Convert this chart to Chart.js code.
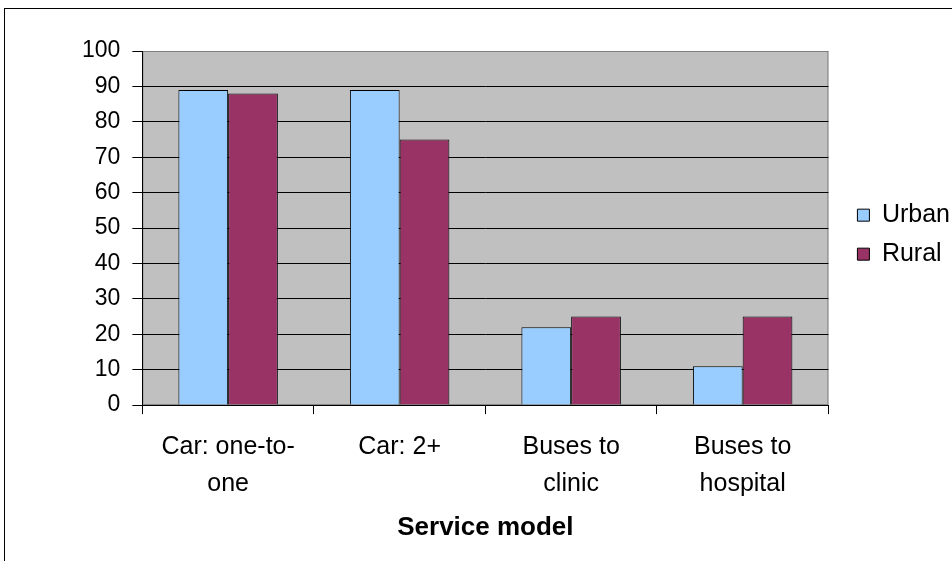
<!DOCTYPE html>
<html>
<head>
<meta charset="utf-8">
<script src="https://cdn.jsdelivr.net/npm/chart.js@4/dist/chart.umd.min.js"></script>
<style>
  html, body { margin: 0; padding: 0; background: #fff; overflow: hidden; }
  #wrap { position: relative; width: 952px; height: 561px; overflow: hidden; }
  #frame { position: absolute; left: 4px; top: 8px; width: 990px; height: 600px; border: 1px solid #000; box-sizing: border-box; }
  #chart { position: absolute; left: 0; top: 0; }
</style>
</head>
<body>
<div id="wrap">
  <div id="frame"></div>
  <canvas id="chart" width="960" height="561"></canvas>
</div>
<script>
const categories = [["Car: one-to-", "one"], ["Car: 2+"], ["Buses to", "clinic"], ["Buses to", "hospital"]];
const urban = [89, 89, 22, 11];
const rural = [88, 75, 25, 25];
const yTicks = [0, 10, 20, 30, 40, 50, 60, 70, 80, 90, 100];

Chart.defaults.font.family = "'Liberation Sans', Arial, sans-serif";
Chart.defaults.color = "#000";

// grey plot background with a grey frame, drawn under grid and bars
const plotBackground = {
  id: "plotBackground",
  beforeDraw(chart) {
    const { ctx, chartArea: a } = chart;
    ctx.save();
    ctx.fillStyle = "#c0c0c0";
    ctx.fillRect(a.left, a.top, a.right - a.left, a.bottom - a.top);
    ctx.strokeStyle = "#808080";
    ctx.lineWidth = 1;
    ctx.strokeRect(a.left + 0.5, a.top + 0.5, a.right - a.left - 1, a.bottom - a.top - 1);
    ctx.restore();
  }
};

new Chart(document.getElementById("chart"), {
  type: "bar",
  data: {
    labels: categories,
    datasets: [
      {
        label: "Urban",
        data: urban,
        backgroundColor: "#99ccff",
        borderColor: "#000",
        borderWidth: 1
      },
      {
        label: "Rural",
        data: rural,
        backgroundColor: "#993366",
        borderColor: "#000",
        borderWidth: 1
      }
    ]
  },
  options: {
    responsive: false,
    animation: false,
    layout: { padding: { left: 70, top: 51, right: 0, bottom: 22 } },
    datasets: { bar: { categoryPercentage: 0.58, barPercentage: 1 } },
    plugins: {
      tooltip: { enabled: false },
      legend: {
        position: "right",
        fullSize: false,
        // empty title just pushes the two entries down a little
        title: { display: true, text: "", font: { size: 11 }, padding: 0 },
        labels: {
          font: { size: 25 },
          boxWidth: 12,
          boxHeight: 12,
          padding: 14
        }
      }
    },
    scales: {
      x: {
        grid: {
          drawOnChartArea: false,
          color: "#000",
          tickLength: 9,
          offset: true
        },
        border: { color: "#000" },
        ticks: { font: { size: 25, lineHeight: 1.48 }, padding: 14, maxRotation: 0 },
        title: {
          display: true,
          text: "Service model",
          font: { size: 26, weight: "bold", lineHeight: 0.88 },
          padding: { top: 0, bottom: 0 }
        }
      },
      y: {
        min: 0,
        max: 100,
        afterBuildTicks: (axis) => { axis.ticks = yTicks.map(v => ({ value: v })); },
        grid: {
          color: (c) => (c.tick && c.tick.value === 100 ? "#808080" : "#000"),
          tickColor: "#000",
          tickLength: 10
        },
        border: { color: "#000" },
        ticks: { font: { size: 23 }, padding: 12 }
      },
      // empty axis only to keep a gap between the plot and the legend
      gap: {
        position: "right",
        display: true,
        grid: { display: false },
        border: { display: false },
        ticks: { display: false },
        afterFit: (axis) => { axis.width = 15; }
      }
    }
  },
  plugins: [plotBackground]
});
</script>
</body>
</html>
